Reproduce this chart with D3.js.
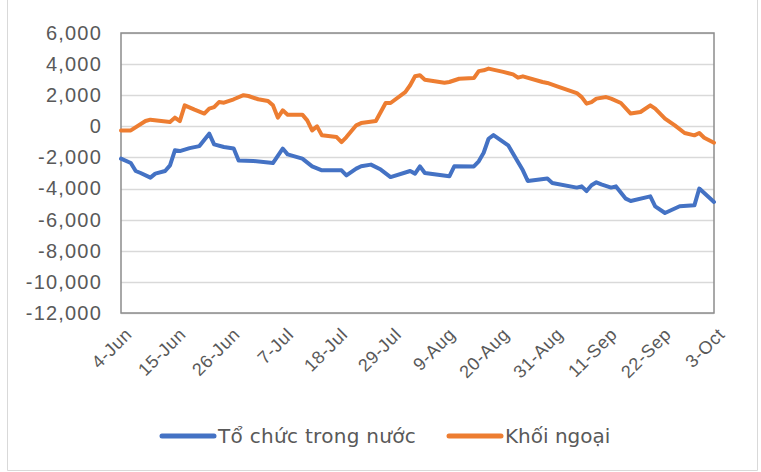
<!DOCTYPE html>
<html lang="vi">
<head>
<meta charset="UTF-8">
<title>Tổ chức trong nước vs Khối ngoại</title>
<script src="https://d3js.org/d3.v7.min.js"></script>
<style>
    body { margin: 0; padding: 0; background: #fff; }
    svg { display: block; font-family: "DejaVu Sans", Verdana, sans-serif; }
    .tick text { fill: #595959; }
</style>
</head>
<body>
<svg id="chart" width="761" height="472"></svg>
<script>
// x tick labels (every 11 days)
const tickLabels = ["4-Jun", "15-Jun", "26-Jun", "7-Jul", "18-Jul", "29-Jul", "9-Aug", "20-Aug", "31-Aug", "11-Sep", "22-Sep", "3-Oct"];
const yTicks = [6000, 4000, 2000, 0, -2000, -4000, -6000, -8000, -10000, -12000];
const seriesNames = ["Tổ chức trong nước", "Khối ngoại"];
const seriesColors = ["#4472C4", "#ED7D31"];

// Tổ chức trong nước
const domesticDates = ["2024-06-04", "2024-06-06", "2024-06-07", "2024-06-08", "2024-06-10", "2024-06-11", "2024-06-13", "2024-06-14", "2024-06-15", "2024-06-16",
    "2024-06-18", "2024-06-20", "2024-06-22", "2024-06-23", "2024-06-25", "2024-06-27", "2024-06-28", "2024-07-01", "2024-07-05", "2024-07-07",
    "2024-07-08", "2024-07-11", "2024-07-13", "2024-07-15", "2024-07-19", "2024-07-20", "2024-07-22", "2024-07-23", "2024-07-25", "2024-07-27",
    "2024-07-29", "2024-08-02", "2024-08-03", "2024-08-04", "2024-08-05", "2024-08-10", "2024-08-11", "2024-08-15", "2024-08-16", "2024-08-17",
    "2024-08-18", "2024-08-19", "2024-08-22", "2024-08-24", "2024-08-25", "2024-08-26", "2024-08-30", "2024-08-31", "2024-09-05", "2024-09-06",
    "2024-09-07", "2024-09-08", "2024-09-09", "2024-09-10", "2024-09-12", "2024-09-13", "2024-09-15", "2024-09-16", "2024-09-20", "2024-09-21",
    "2024-09-23", "2024-09-26", "2024-09-29", "2024-09-30", "2024-10-03"];
const domesticValues = [-2080, -2360, -2870, -3000, -3300, -3040, -2870, -2510, -1540, -1590,
    -1400, -1270, -470, -1160, -1330, -1430, -2190, -2230, -2360, -1430,
    -1800, -2080, -2570, -2830, -2830, -3150, -2720, -2570, -2460, -2780,
    -3260, -2870, -3040, -2570, -3000, -3215, -2570, -2580, -2250, -1700,
    -800, -560, -1220, -2290, -2830, -3510, -3360, -3640, -3940, -3860,
    -4160, -3790, -3600, -3730, -3940, -3860, -4650, -4800, -4500, -5140,
    -5570, -5140, -5080, -4000, -4860];

// Khối ngoại
const foreignDates = ["2024-06-04", "2024-06-06", "2024-06-09", "2024-06-10", "2024-06-14", "2024-06-15", "2024-06-16", "2024-06-17", "2024-06-19", "2024-06-21",
    "2024-06-22", "2024-06-23", "2024-06-24", "2024-06-25", "2024-06-27", "2024-06-29", "2024-06-30", "2024-07-02", "2024-07-04", "2024-07-05",
    "2024-07-06", "2024-07-07", "2024-07-08", "2024-07-11", "2024-07-12", "2024-07-13", "2024-07-14", "2024-07-15", "2024-07-18", "2024-07-19",
    "2024-07-20", "2024-07-22", "2024-07-23", "2024-07-26", "2024-07-28", "2024-07-29", "2024-08-01", "2024-08-02", "2024-08-03", "2024-08-04",
    "2024-08-05", "2024-08-09", "2024-08-10", "2024-08-12", "2024-08-15", "2024-08-16", "2024-08-17", "2024-08-18", "2024-08-21", "2024-08-23",
    "2024-08-24", "2024-08-25", "2024-08-29", "2024-08-30", "2024-09-01", "2024-09-05", "2024-09-06", "2024-09-07", "2024-09-08", "2024-09-09",
    "2024-09-11", "2024-09-12", "2024-09-14", "2024-09-16", "2024-09-18", "2024-09-20", "2024-09-21", "2024-09-23", "2024-09-25", "2024-09-27",
    "2024-09-29", "2024-09-30", "2024-10-01", "2024-10-03"];
const foreignValues = [-260, -260, 340, 430, 280, 560, 340, 1350, 1070, 820,
    1140, 1240, 1560, 1520, 1740, 2000, 1950, 1740, 1630, 1350,
    560, 1030, 750, 750, 385, -260, 0, -580, -690, -1010,
    -690, 64, 210, 340, 1500, 1500, 2200, 2640, 3215, 3280,
    3000, 2800, 2850, 3060, 3100, 3550, 3600, 3710, 3500, 3340,
    3130, 3215, 2850, 2790, 2570, 2140, 1880, 1460, 1560, 1780,
    1880, 1780, 1500, 820, 920, 1350, 1140, 500, 64, -430,
    -580, -430, -730, -1050];

const parse = d3.timeParse("%Y-%m-%d");
const series = [
    { name: seriesNames[0], color: seriesColors[0], points: domesticDates.map((d, i) => ({ date: parse(d), value: domesticValues[i] })) },
    { name: seriesNames[1], color: seriesColors[1], points: foreignDates.map((d, i) => ({ date: parse(d), value: foreignValues[i] })) }
];

const svg = d3.select("#chart");
const margin = { left: 121, top: 33, right: 47, bottom: 159 };
const width = 761 - margin.left - margin.right;
const height = 472 - margin.top - margin.bottom;

// outer chart frame (top edge cut off in the original)
svg.append("path")
    .attr("d", "M7.5,0 V470.5 H757.5 V0")
    .attr("fill", "none")
    .attr("stroke", "#d9d9d9");

const g = svg.append("g").attr("transform", `translate(${margin.left},${margin.top})`);

const tickDates = tickLabels.map(t => d3.timeParse("%d-%b-%Y")(t + "-2024"));
const x = d3.scaleTime()
    .domain([tickDates[0], tickDates[tickDates.length - 1]])
    .range([0, width]);
const y = d3.scaleLinear().domain([-12000, 6000]).range([height, 0]);

// gridlines
g.append("g")
    .selectAll("line")
    .data(yTicks)
    .join("line")
    .attr("x1", 0).attr("x2", width)
    .attr("y1", d => Math.round(y(d)) + 0.5).attr("y2", d => Math.round(y(d)) + 0.5)
    .attr("stroke", "#d9d9d9")
    .attr("stroke-width", 1.5);

// plot area border
g.append("rect")
    .attr("x", 0).attr("y", 0)
    .attr("width", width).attr("height", height)
    .attr("fill", "none")
    .attr("stroke", "#8c8c8c")
    .attr("stroke-width", 1.5);

// y axis - Excel style hyphen minus
const comma = d3.format(",");
const yAxis = g.append("g")
    .call(d3.axisLeft(y).tickValues(yTicks).tickFormat(d => (d < 0 ? "-" : "") + comma(Math.abs(d))).tickSize(0).tickPadding(19));
yAxis.select(".domain").remove();
yAxis.selectAll("text").style("font-size", "20px").style("letter-spacing", "1.2px");

// x axis
const fmt = d3.timeFormat("%-d-%b");
const xAxis = g.append("g")
    .attr("transform", `translate(0,${height})`)
    .call(d3.axisBottom(x).tickValues(tickDates).tickFormat(fmt).tickSize(0));
xAxis.select(".domain").remove();
xAxis.selectAll("text")
    .style("font-size", "18px")
    .style("letter-spacing", "0.6px")
    .attr("text-anchor", "end")
    .attr("dy", "0.35em")
    .attr("transform", "translate(5,16) rotate(-45)");

// lines
const line = d3.line()
    .x(d => x(d.date))
    .y(d => y(d.value));

g.append("g")
    .selectAll("path")
    .data(series)
    .join("path")
    .attr("fill", "none")
    .attr("stroke", d => d.color)
    .attr("stroke-width", 4)
    .attr("stroke-linejoin", "round")
    .attr("stroke-linecap", "round")
    .attr("d", d => line(d.points));

// legend
const legend = svg.append("g").attr("transform", "translate(0,436)");
const legendX = [162, 449];
series.forEach((s, i) => {
    const lg = legend.append("g").attr("transform", `translate(${legendX[i]},0)`);
    lg.append("line")
        .attr("x1", 0).attr("x2", 52)
        .attr("stroke", s.color)
        .attr("stroke-width", 5)
        .attr("stroke-linecap", "round");
    lg.append("text")
        .attr("x", 56)
        .attr("dy", "0.35em")
        .attr("fill", "#595959")
        .style("font-size", "20px")
        .style("letter-spacing", i === 0 ? "0.3px" : "0px")
        .text(s.name);
});
</script>
</body>
</html>
